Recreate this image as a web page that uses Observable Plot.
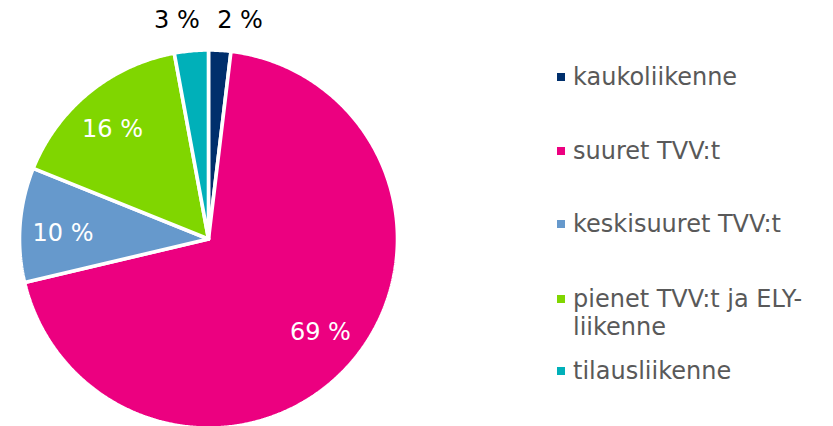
<!DOCTYPE html>
<html>
<head>
<meta charset="utf-8">
<script src="https://cdn.jsdelivr.net/npm/d3@7"></script>
<script src="https://cdn.jsdelivr.net/npm/@observablehq/plot@0.6"></script>
<style>
  html, body { margin: 0; padding: 0; background: #fff; }
  #wrap { position: relative; width: 833px; height: 426px; overflow: hidden; font-family: "DejaVu Sans", Verdana, sans-serif; }
  #chart { position: absolute; left: 0; top: 0; }
  #legend { position: absolute; left: 557px; top: 0; width: 276px; height: 426px; }
  .item { position: absolute; left: 0; display: flex; align-items: flex-start; color: #595959; font-size: 24px; line-height: 28px; }
  .sw { width: 8px; height: 8px; margin-top: 10px; margin-right: 8px; flex: none; }
  .txt { width: 252px; }
</style>
</head>
<body>
<div id="wrap">
  <div id="chart"></div>
  <div id="legend"></div>
</div>
<script>
// ---- data ----
const categories = ["kaukoliikenne", "suuret TVV:t", "keskisuuret TVV:t", "pienet TVV:t ja ELY-liikenne", "tilausliikenne"];
const shares = [1.9, 69.4, 9.8, 16.0, 2.9];
const labels = ["2 %", "69 %", "10 %", "16 %", "3 %"];
const colors = ["#002f6c", "#ec0080", "#6699cc", "#80d600", "#00b0b9"];

// ---- geometry from d3.pie (angle 0 at top, clockwise) ----
const arcs = d3.pie().sort(null).value(d => d)(shares);
const step = Math.PI / 360;
const slices = arcs.map((a, i) => {
  const pts = [{x: 0, y: 0}];
  const n = Math.max(2, Math.ceil((a.endAngle - a.startAngle) / step));
  for (let k = 0; k <= n; k++) {
    const t = a.startAngle + (a.endAngle - a.startAngle) * k / n;
    pts.push({x: Math.sin(t), y: Math.cos(t)});
  }
  pts.push({x: 0, y: 0});
  return {category: categories[i], color: colors[i], pts};
});

const deg = Math.PI / 180;
const inside = [], outside = [];
arcs.forEach((a, i) => {
  const mid = (a.startAngle + a.endAngle) / 2;
  if (shares[i] < 5) {
    const ang = (mid > Math.PI ? -1 : 1) * 8.2 * deg;
    outside.push({x: 1.17 * Math.sin(ang), y: 1.17 * Math.cos(ang), label: labels[i]});
  } else {
    const ang = mid - 2 * deg;
    inside.push({x: 0.77 * Math.sin(ang), y: 0.77 * Math.cos(ang), label: labels[i]});
  }
});

const R = 189, cx = 208, cy = 238.5;
const chart = Plot.plot({
  width: 540,
  height: 426,
  margin: 0,
  style: {fontFamily: "DejaVu Sans, Verdana, sans-serif", background: "transparent"},
  x: {domain: [-1, 1], range: [cx - R, cx + R], axis: null},
  y: {domain: [-1, 1], range: [cy + R, cy - R], axis: null},
  marks: [
    ...slices.map(s => Plot.line(s.pts, {
      x: "x", y: "y", fill: s.color, stroke: "white", strokeWidth: 3.6,
      strokeLinejoin: "miter", curve: "linear", title: () => s.category
    })),
    Plot.text(inside, {x: "x", y: "y", text: "label", fill: "white", fontSize: 24}),
    Plot.text(outside, {x: "x", y: "y", text: "label", fill: "black", fontSize: 24})
  ]
});
document.getElementById("chart").appendChild(chart);

// ---- legend ----
const itemTops = [63, 137, 210, 285, 357];
const legend = document.getElementById("legend");
categories.forEach((c, i) => {
  const item = document.createElement("div");
  item.className = "item";
  item.style.top = itemTops[i] + "px";
  const sw = document.createElement("div");
  sw.className = "sw";
  sw.style.background = colors[i];
  const t = document.createElement("div");
  t.className = "txt";
  t.textContent = c;
  item.appendChild(sw);
  item.appendChild(t);
  legend.appendChild(item);
});
</script>
</body>
</html>
